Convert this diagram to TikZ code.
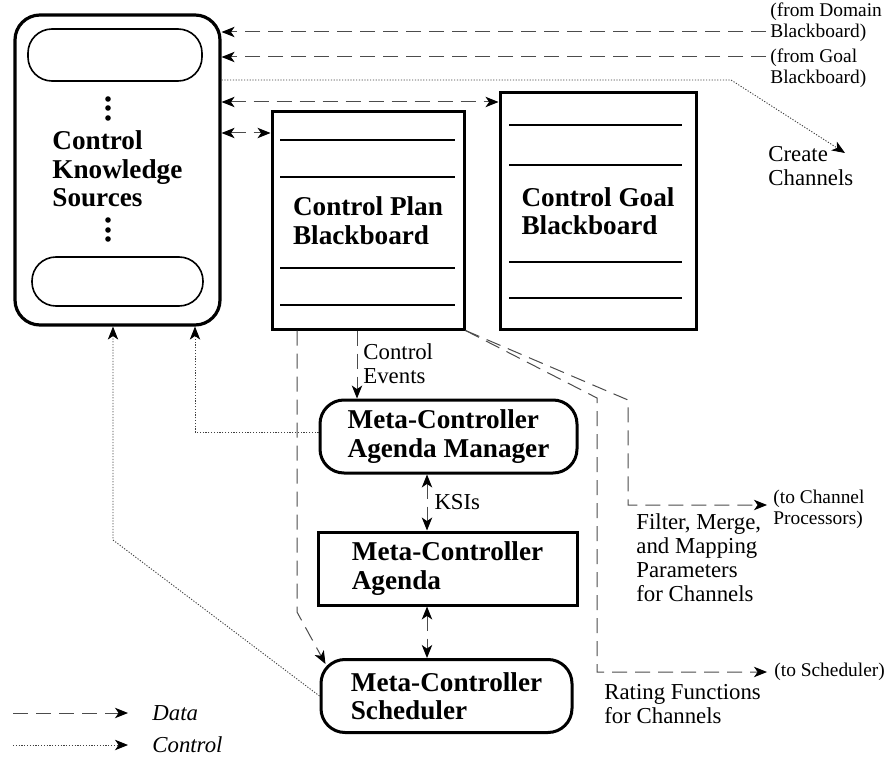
\documentclass[tikz,border=0pt]{standalone}
\usepackage{fontspec}
\setmainfont{Liberation Serif}
\usetikzlibrary{arrows.meta,fit}

\begin{document}
\begin{tikzpicture}[
  x=0.5pt, y=-0.5pt,
  >={Stealth[length=6.5pt,width=5.2pt,inset=1.8pt,color=black]},
  boldtxt/.style={font=\fontsize{13.6}{14.2}\selectfont\bfseries, align=left},
  plaintxt/.style={font=\fontsize{11.4}{12}\selectfont, align=left, inner sep=0pt},
  smalltxt/.style={font=\fontsize{9.7}{10.6}\selectfont, align=left, inner sep=0pt},
  legendtxt/.style={font=\fontsize{11.4}{12}\selectfont\itshape, inner sep=0pt},
  ksbox/.style={draw, line width=1.6pt, rounded corners=12.5pt, inner sep=0pt},
  slotbox/.style={draw, line width=0.8pt, rounded corners=12pt, inner sep=0pt},
  bbbox/.style={draw, line width=1.5pt, inner sep=0pt, boldtxt},
  bbline/.style={line width=0.9pt},
  mcround/.style={draw, line width=1.5pt, rounded corners=12pt, inner sep=0pt,
                  minimum height=36.5pt, boldtxt},
  mcbox/.style={draw, line width=1.5pt, inner sep=0pt, minimum height=36.5pt, boldtxt},
  dataarrow/.style={->, line width=0.5pt, draw=black!70, dash pattern=on 7.5pt off 4pt},
  databoth/.style={<->, line width=0.5pt, draw=black!70, dash pattern=on 7.5pt off 4pt},
  ctlarrow/.style={->, line width=0.45pt, draw=black!75, dash pattern=on 0.6pt off 0.8pt}
]
\path[use as bounding box, fill=white] (0,0) rectangle (884,765);

% knowledge sources
\node[ksbox, fit={(15,15) (220,325)}]   (ks)      {};
\node[slotbox, fit={(28,29) (202,81)}]  (slottop) {};
\node[slotbox, fit={(32,257) (203,306)}] (slotbot) {};
\node[boldtxt, anchor=west, inner sep=0pt] (kstext) at (52,169) {Control\\Knowledge\\Sources};
\foreach \y in {99,108,118,220,230,239}
  \fill (108,\y) circle (1.4pt);

% blackboards
\node[bbbox, minimum width=96pt, minimum height=108.5pt] (plan) at (368,220.5) {Control Plan\\Blackboard};
\node[bbbox, minimum width=98pt, minimum height=118pt]   (goal) at (598,211)   {Control Goal\\Blackboard};
\foreach \y in {140,177,268,305}
  \draw[bbline] (280,\y) -- (455,\y);
\foreach \y in {125,165,262,298}
  \draw[bbline] (509,\y) -- (682,\y);

% meta-controller
\node[mcround, minimum width=128.5pt] (mgr)    at (448.5,436.5) {Meta-Controller\\Agenda Manager};
\node[mcbox,   minimum width=129.5pt] (agenda) at (447.5,568.5) {Meta-Controller\\Agenda};
\node[mcround, minimum width=125.5pt] (sched)  at (446.5,696)   {Meta-Controller\\Scheduler};

% outside labels
\node[smalltxt, anchor=west] (fromdom)  at (770,22.5) {(from Domain\\Blackboard)};
\node[smalltxt, anchor=west] (fromgoal) at (770,68)   {(from Goal\\Blackboard)};
\node[plaintxt, anchor=west] (create)   at (768,166)  {Create\\Channels};
\node[plaintxt, anchor=west] (events)   at (363,364)  {Control\\Events};
\node[smalltxt, anchor=west] (tochan)   at (773,509)  {(to Channel\\Processors)};
\node[smalltxt, anchor=west] (tosched)  at (774,672)  {(to Scheduler)};
\node[plaintxt, anchor=west] (filterlbl) at (636,558) {Filter, Merge,\\and Mapping\\Parameters\\for Channels};
\node[plaintxt, anchor=west] (ratelbl)  at (604,704.5) {Rating Functions\\for Channels};

\coordinate (domin)      at (766,32);
\coordinate (goalin)     at (766,57);
\coordinate (createtip)  at (845,153);
\coordinate (chanout)    at (767,505);
\coordinate (schedout)   at (767,672);

\draw[dataarrow] (domin)  -- (ks.east |- domin);
\draw[dataarrow] (goalin) -- (ks.east |- goalin);
\draw[ctlarrow]  (ks.east |- 0,80) -- (731,80) -- (createtip);
\draw[databoth]  (ks.east |- 0,102) -- (goal.west |- 0,102);
\draw[databoth]  (ks.east |- 0,133) -- (plan.west |- 0,133);

\draw[dataarrow] (plan.south -| 357,0) -- (mgr.north -| 357,0);
\draw[databoth]  (mgr.south -| 427,0) -- node[plaintxt, right=3.5pt] (ksis) {KSIs} (agenda.north -| 427,0);
\draw[databoth]  (agenda.south -| 427,0) -- (sched.north -| 427,0);
\draw[dataarrow] (plan.south -| 297,0) -- (297,612) -- ([shift={(6,6)}]sched.north west);
\draw[dataarrow] (plan.south east) -- (597,398) -- (597,672) -- (schedout);
\draw[dataarrow] (plan.south east) -- (628,400) -- (628,505) -- (chanout);

\draw[ctlarrow] (mgr.west |- 0,432) -| (ks.south -| 195,0);
\draw[ctlarrow] (sched.west) -- (113,540) -- (ks.south -| 113,0);

% legend
\node[legendtxt, anchor=west] (datalbl) at (152,713) {Data};
\node[legendtxt, anchor=west] (ctllbl)  at (152,745) {Control};
\coordinate (legdata) at (13,713);
\coordinate (legctl)  at (13,745);
\draw[dataarrow, shorten >=12pt] (legdata) -- (datalbl.west);
\draw[ctlarrow,  shorten >=12pt] (legctl)  -- (ctllbl.west);
\end{tikzpicture}
\end{document}
